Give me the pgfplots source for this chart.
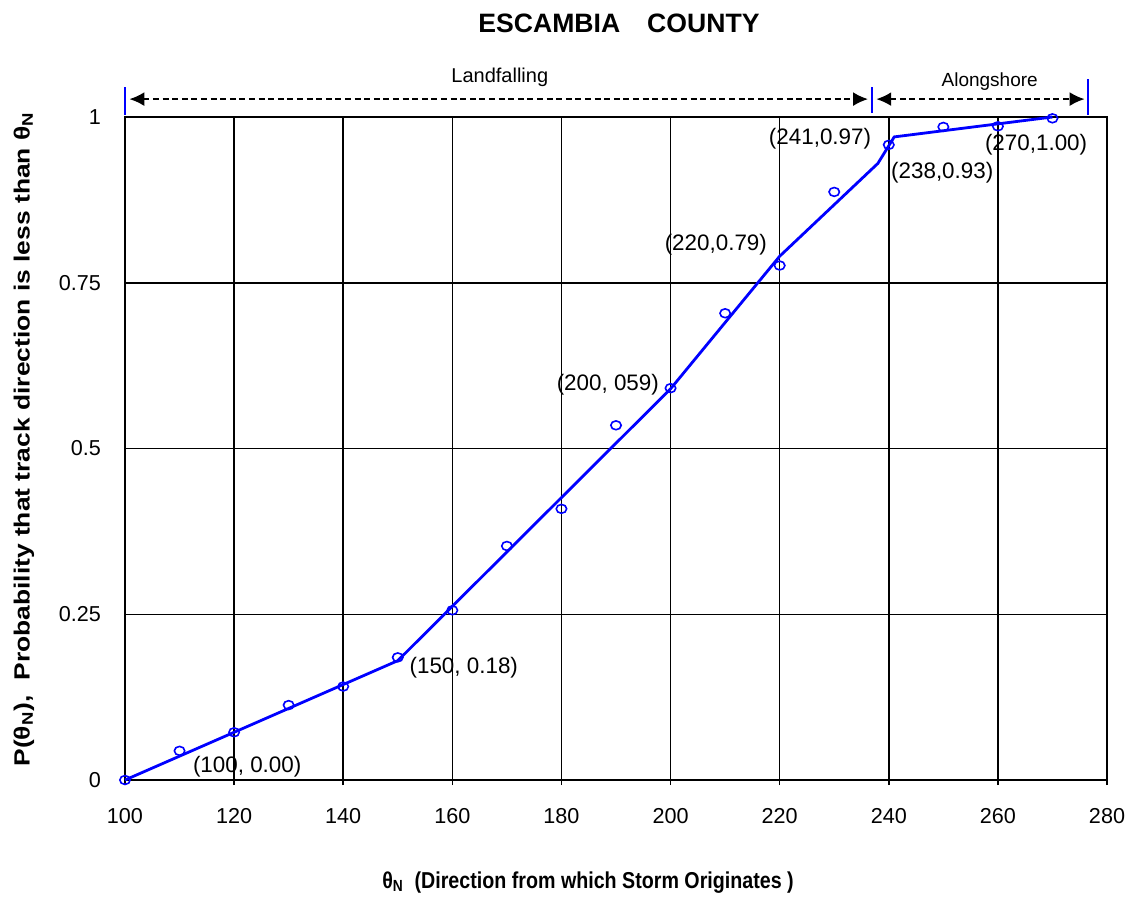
\documentclass[border=0pt]{standalone}
\usepackage{pgfplots}
\pgfplotsset{compat=1.18}
\usepackage{fontspec}
\setmainfont{Liberation Sans}
\usetikzlibrary{arrows.meta}

\definecolor{trackblue}{RGB}{0,0,255}

% observed cumulative frequencies of track direction
\pgfplotstableread{
theta p
100 0.000
110 0.044
120 0.072
130 0.113
140 0.141
150 0.185
160 0.256
170 0.353
180 0.409
190 0.535
200 0.591
210 0.704
220 0.776
230 0.887
240 0.958
250 0.985
260 0.986
270 0.998
}\observed

% piecewise linear fit through the break points
\pgfplotstableread{
theta p
100 0.00
150 0.18
200 0.59
220 0.79
238 0.93
241 0.97
270 1.00
}\fitted

\begin{document}
\begin{tikzpicture}
\begin{axis}[
  at={(0,0)}, anchor=south west,
  scale only axis,
  width=491pt, height=331.5pt,
  xmin=100, xmax=280, ymin=0, ymax=1,
  xtick={100,120,...,280},
  ytick={0,0.25,0.5,0.75,1},
  yticklabels={0,0.25,0.5,0.75,1},
  grid=major,
  major grid style={black, line width=0.75pt},
  axis line style={black, line width=0.75pt},
  tick align=outside,
  major tick length=2.5pt,
  xtick style={black, line width=0.75pt},
  ytick style={draw=none},
  xtick pos=bottom,
  /pgf/number format/assume math mode=true,
  ticklabel style={font=\fontsize{10.8}{13}\selectfont},
  xticklabel style={yshift=-8pt},
  yticklabel style={xshift=-6pt},
  clip=false,
]
\addplot[trackblue, line width=1.4pt, no markers] table[x=theta, y=p] {\fitted};
\addplot[only marks, mark=o, mark size=2.6pt,
  mark options={trackblue, line width=0.8pt, yscale=0.85}] table[x=theta, y=p] {\observed};

\begin{scope}[font=\fontsize{11.2}{13}\selectfont]
\node at (axis cs:122.4,0.020) {(100, 0.00)};
\node at (axis cs:162.1,0.170) {(150, 0.18)};
\node at (axis cs:188.5,0.596) {(200, 059)};
\node at (axis cs:208.3,0.807) {(220,0.79)};
\node at (axis cs:227.4,0.968) {(241,0.97)};
\node at (axis cs:249.8,0.916) {(238,0.93)};
\node at (axis cs:267.0,0.958) {(270,1.00)};
\end{scope}

% direction sectors above the plot
\draw[trackblue, line width=1pt] (axis cs:100,1.003) -- (axis cs:100,1.045);
\draw[trackblue, line width=1pt] (axis cs:236.9,1.006) -- (axis cs:236.9,1.045);
\draw[trackblue, line width=1pt] (axis cs:276.5,1.003) -- (axis cs:276.5,1.058);
\draw[black, line width=1pt, dash pattern=on 3pt off 1.8pt,
  {Latex[length=7.5pt,width=7pt]}-{Latex[length=7.5pt,width=7pt]}]
  (axis cs:100.8,1.027) -- (axis cs:236.2,1.027);
\draw[black, line width=1pt, dash pattern=on 3pt off 1.8pt,
  {Latex[length=7.5pt,width=7pt]}-{Latex[length=7.5pt,width=7pt]}]
  (axis cs:237.7,1.027) -- (axis cs:275.9,1.027);
\node[font=\fontsize{10}{12}\selectfont] at (axis cs:168.7,1.060) {Landfalling};
\node[font=\fontsize{9.5}{11}\selectfont] at (axis cs:258.5,1.053) {Alongshore};

% title and axis labels
\node[font=\fontsize{13.3}{15}\selectfont\bfseries] at (rel axis cs:0.503,1.142)
  {ESCAMBIA\hspace{13.5pt}COUNTY};
\node[font=\fontsize{11.5}{13}\selectfont\bfseries] at (rel axis cs:0.4715,-0.154)
  {\scalebox{0.855}[1]{θ\textsubscript{N}\ \ (Direction from which Storm Originates )}};
\node[font=\fontsize{11}{13}\selectfont\bfseries, rotate=90] at (rel axis cs:-0.103,0.514)
  {\scalebox{1.2}[1]{P(θ\textsubscript{N}),\ \ Probability that track direction is less than θ\textsubscript{N}}};
\end{axis}
\pgfresetboundingbox
\path[use as bounding box] (-62.5pt,-58pt) rectangle (506.5pt,390pt);
\end{tikzpicture}
\end{document}
